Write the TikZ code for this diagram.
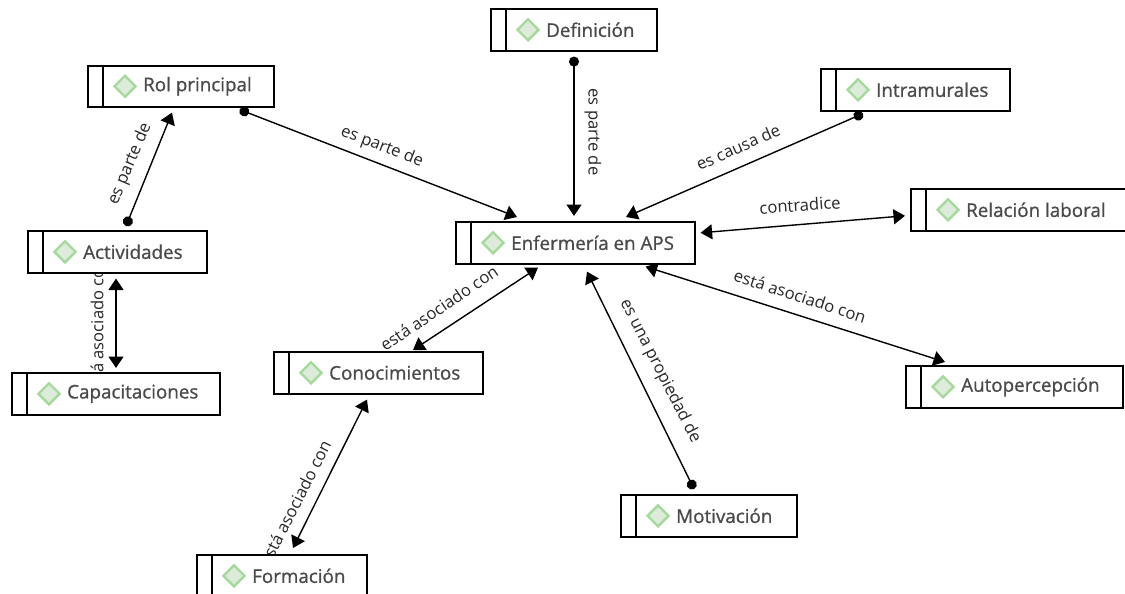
\documentclass[tikz,border=0pt]{standalone}
\usepackage{fontspec}
\setmainfont{Open Sans}
\newfontfamily\conceptfont[FakeBold=0.9]{Open Sans}
\usetikzlibrary{arrows.meta,calc,shapes.geometric}
\definecolor{txt}{HTML}{4A4A4A}
\definecolor{dfill}{HTML}{DDEBDA}
\definecolor{dline}{HTML}{A6DA9C}
\tikzset{
  x=1pt,y=-1pt,
  concept/.style={draw=black,line width=1.6pt,fill=white,inner sep=0pt,anchor=north west},
  divider/.style={draw=black,line width=1.6pt},
  gem/.style={diamond,draw=dline,fill=dfill,line width=2.4pt,minimum width=22pt,minimum height=22pt,inner sep=0pt},
  conceptlabel/.style={anchor=west,inner sep=0pt,text=txt,font=\conceptfont\fontsize{18.8}{21}\selectfont},
  link/.style={draw=black,line width=1.4pt},
  toboth/.style={link,{Triangle[length=11.5pt,width=15pt]}-{Triangle[length=11.5pt,width=15pt]}},
  dotto/.style={link,{Circle[length=10pt]}-{Triangle[length=11.5pt,width=15pt]}},
  linklabel/.style={inner sep=0pt,text=black!85,font=\fontsize{16.6}{19}\selectfont},
}
\newcommand{\conceptbox}[6]{%
  \node[concept,minimum width=#4pt-#2pt,minimum height=#5pt-#3pt] (#1) at (#2,#3) {};
  \draw[divider] ($(#1.north west)+(16,0)$) -- ($(#1.south west)+(16,0)$);
  \node[gem] (#1gem) at ($(#1.west)+(38,0)$) {};
  \node[conceptlabel] (#1text) at ($(#1.west)+(56,0)$) {#6};
}
\begin{document}
\begin{tikzpicture}
\useasboundingbox (0,0) rectangle (1125,594);
\clip (0,0) rectangle (1125,594);
% labels lying under the boxes
\node[linklabel,rotate=-21] (l1) at (382,147) {es parte de};
\node[linklabel,rotate=-90] (l2) at (593,132) {es parte de};
\node[linklabel,rotate=24] (l3) at (738,147) {es causa de};
\node[linklabel,rotate=4] (l4) at (800,205) {contradice};
\node[linklabel,rotate=-18] (l5) at (800,296) {está asociado con};
\node[linklabel,rotate=-63] (l6) at (660,371) {es una propiedad de};
\node[linklabel,rotate=34] (l7) at (439,308) {está asociado con};
\node[linklabel,rotate=63] (l8) at (295,503) {está asociado con};
\node[linklabel,rotate=67] (l9) at (130,164) {es parte de};
\node[linklabel,rotate=90] (l10) at (97,327) {está asociado con};
% boxes
\conceptbox{rol}{87}{65}{273}{106}{Rol principal}
\conceptbox{act}{27}{230}{206}{272}{Actividades}
\conceptbox{cap}{11}{372}{219}{414}{Capacitaciones}
\conceptbox{con}{273}{351}{482}{393}{Conocimientos}
\conceptbox{form}{196}{554}{366}{596}{Formación}
\conceptbox{enf}{455}{221}{694}{263}{Enfermería en APS}
\conceptbox{def}{490}{8}{656}{50}{Definición}
\conceptbox{intra}{820}{68}{1009}{110}{Intramurales}
\conceptbox{rel}{910}{188}{1127}{230}{Relación laboral}
\conceptbox{auto}{905}{365}{1122}{407}{Autopercepción}
\conceptbox{mot}{620}{494}{796}{536}{Motivación}
% connectors
\draw[dotto] ($(rol.south east)+(-35,2)$) -- ($(enf.north west)+(62,-4)$);
\draw[dotto] ($(def.south west)+(84,5)$) -- ($(enf.north west)+(119,-5)$);
\draw[dotto] ($(intra.south west)+(43,2)$) -- ($(enf.north west)+(171,-4)$);
\draw[toboth] ($(enf.east)+(5,-10)$) -- ($(rel.west)+(-5,6)$);
\draw[toboth] ($(enf.south east)+(-50,2)$) -- ($(auto.north west)+(40,-3)$);
\draw[dotto] ($(mot.north west)+(74,-5)$) -- ($(enf.south west)+(132,7)$);
\draw[toboth] ($(enf.south west)+(83,3)$) -- ($(con.north west)+(140,-1)$);
\draw[toboth] ($(con.south west)+(94,5)$) -- ($(form.north west)+(97,-6)$);
\draw[dotto] ($(act.north west)+(99,-4)$) -- ($(rol.south west)+(85,5)$);
\draw[toboth] ($(act.south west)+(89,5)$) -- ($(cap.north west)+(105,-4)$);
\end{tikzpicture}
\end{document}
